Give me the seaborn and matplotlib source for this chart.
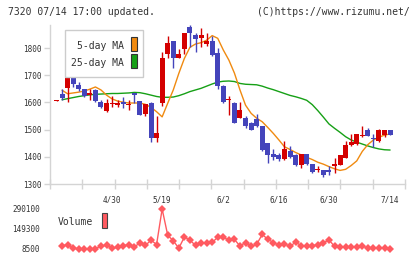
import numpy as np
import matplotlib
matplotlib.use("Agg")
import matplotlib.pyplot as plt
import seaborn as sns
from matplotlib.patches import Rectangle

# ---------------- data ----------------
opens = [1607, 1631, 1653, 1692, 1664, 1648, 1626, 1645, 1600, 1567,
         1594, 1590, 1601, 1591, 1634, 1604, 1557, 1598, 1470, 1597,
         1778, 1826, 1764, 1797, 1877, 1848, 1837, 1815, 1826, 1782,
         1660, 1609, 1598, 1543, 1543, 1525, 1539, 1513, 1451, 1410,
         1407, 1392, 1421, 1407, 1370, 1410, 1374, 1352, 1351, 1351,
         1367, 1371, 1397, 1444, 1447, 1478, 1499, 1469, 1458, 1481, 1499]
highs = [1610, 1648, 1697, 1697, 1675, 1650, 1648, 1648, 1608, 1614,
         1622, 1609, 1619, 1609, 1636, 1606, 1596, 1600, 1552, 1785,
         1845, 1827, 1797, 1856, 1884, 1855, 1873, 1855, 1844, 1800,
         1664, 1623, 1600, 1601, 1550, 1529, 1557, 1514, 1452, 1429,
         1414, 1458, 1440, 1410, 1411, 1411, 1375, 1366, 1352, 1366,
         1396, 1408, 1458, 1484, 1485, 1513, 1506, 1484, 1502, 1500, 1500]
lows = [1606, 1609, 1600, 1658, 1641, 1620, 1609, 1603, 1580, 1566,
        1582, 1583, 1579, 1572, 1598, 1553, 1550, 1455, 1456, 1588,
        1763, 1726, 1763, 1778, 1804, 1787, 1804, 1808, 1772, 1649,
        1597, 1555, 1523, 1543, 1506, 1499, 1510, 1421, 1378, 1389,
        1386, 1389, 1396, 1368, 1360, 1370, 1340, 1344, 1326, 1333,
        1341, 1369, 1396, 1440, 1445, 1472, 1475, 1436, 1456, 1473, 1480]
closes = [1609, 1617, 1692, 1668, 1649, 1624, 1636, 1605, 1585, 1597,
          1598, 1597, 1596, 1596, 1629, 1555, 1594, 1469, 1489, 1763,
          1818, 1763, 1778, 1855, 1856, 1833, 1848, 1826, 1775, 1660,
          1602, 1612, 1525, 1572, 1513, 1499, 1513, 1425, 1407, 1399,
          1393, 1429, 1399, 1370, 1410, 1375, 1345, 1356, 1333, 1345,
          1374, 1407, 1444, 1455, 1484, 1481, 1477, 1466, 1499, 1499, 1481]
ma5 = [np.nan, 1645, 1632, 1635, 1638, 1642, 1649, 1657, 1646, 1627,
       1613, 1605, 1601, 1598, 1598, 1598, 1593, 1582, 1566, 1547,
       1597, 1646, 1707, 1762, 1803, 1815, 1820, 1829, 1846, 1836,
       1793, 1756, 1708, 1646, 1590, 1560, 1542, 1529, 1508, 1486,
       1462, 1437, 1427, 1416, 1407, 1398, 1390, 1380, 1373, 1364,
       1356, 1350, 1354, 1368, 1385, 1420, 1445, 1462, 1472, 1480, 1484]
ma25 = [np.nan, 1610, 1614, 1618, 1622, 1625, 1628, 1630, 1631, 1632,
        1633, 1633, 1634, 1635, 1637, 1636, 1632, 1627, 1622, 1619,
        1619, 1620, 1625, 1632, 1640, 1646, 1652, 1660, 1668, 1675,
        1678, 1679, 1677, 1670, 1667, 1666, 1665, 1660, 1653, 1647,
        1640, 1633, 1626, 1621, 1615, 1608, 1592, 1570, 1546, 1521,
        1505, 1490, 1474, 1462, 1454, 1447, 1440, 1434, 1429, 1426, 1425]
volume = [np.nan, 29600, 40000, 14500, 10000, 10000, 10000, 10000, 29600, 35000,
          14500, 20000, 31000, 40000, 26000, 48500, 34000, 71000, 40000, 290100,
          106000, 66000, 14500, 93000, 71000, 34000, 50000, 50000, 55000, 91000,
          91000, 71000, 76000, 29600, 54000, 27000, 41000, 111000, 77000, 54000,
          35000, 44000, 28000, 56000, 33000, 29600, 32000, 37000, 51000, 73000,
          27000, 22000, 20000, 22000, 26000, 28000, 17000, 14500, 15000, 14500, 12000]
date_labels = ["4/30", "5/19", "6/2", "6/16", "6/30", "7/14"]
date_index = [10, 19, 30, 40, 49, 60]
price_ticks = [1300, 1400, 1500, 1600, 1700, 1800]
vol_ticks = [8500, 149300, 290100]
vol_tick_labels = ["8500", "149300", "290100"]

# ---------------- style ----------------
sns.set_theme(style="white")
plt.rcParams['font.family'] = ['DejaVu Sans Mono']

RED = '#d40000'
BLUE = '#4444bb'
ORANGE = '#f08a10'
GREEN = '#16a016'
VOLC = '#ff5a60'
GRAY = '#d4d4d4'
TXT = '#333333'

W, H = 420, 259
fig = plt.figure(figsize=(W / 100, H / 100), dpi=100)
fig.patch.set_facecolor('white')


def rect(l, t, r, b):
    return [l / W, 1 - b / H, (r - l) / W, (b - t) / H]


ax = fig.add_axes(rect(50, 25, 405, 184))
axv = fig.add_axes(rect(50, 203, 405, 255))

n = len(closes)
idx = np.arange(n)
step = 5.56
x0 = -(56.5 - 50) / step
x1 = (405 - 56.5) / step

# ---- moving averages (beneath candles) ----
sns.lineplot(x=idx, y=ma25, ax=ax, color=GREEN, lw=1.0, zorder=1)
sns.lineplot(x=idx, y=ma5, ax=ax, color=ORANGE, lw=1.0, zorder=1)

# ---- candles ----
o = np.array(opens, float); c = np.array(closes, float)
hi = np.array(highs, float); lo = np.array(lows, float)
cols = [RED if cc >= oo else BLUE for oo, cc in zip(o, c)]
ax.vlines(idx, lo, hi, colors=cols, lw=1.0, zorder=2)
bot = np.minimum(o, c)
hgt = np.maximum(np.abs(c - o), 3.0)
ax.bar(idx, hgt, bottom=bot, width=0.9, color=cols, linewidth=0, zorder=3)

ax.set_xlim(x0, x1)
ax.set_ylim(1300, 1885)
for s in ['top', 'right']:
    ax.spines[s].set_visible(False)
for s in ['left', 'bottom']:
    ax.spines[s].set_color(GRAY)
    ax.spines[s].set_linewidth(1.0)
ax.set_yticks(price_ticks)
ax.set_yticklabels([str(t) for t in price_ticks])
ax.tick_params(axis='y', length=4.3, width=1, color=GRAY, pad=2,
               labelsize=5.5, labelcolor=TXT, left=True)
ax.set_xticks(np.linspace(x0, x1, 12))
ax.set_xticklabels([])
ax.tick_params(axis='x', which='major', direction='inout', length=7.5,
               width=1, color=GRAY, bottom=True)
ax.set_xticks(date_index, minor=True)
ax.set_xticklabels(date_labels, minor=True)
ax.tick_params(axis='x', which='minor', length=0, pad=8, labelsize=5.5,
               labelcolor=TXT)
ax.grid(False)
ax.set_xlabel(''); ax.set_ylabel('')

# ---- volume ----
sns.lineplot(x=idx, y=volume, ax=axv, color=VOLC, lw=1.0, marker='D',
             markersize=4, markeredgewidth=0, markerfacecolor=VOLC)
vp = 40 / (290100 - 8500)  # px per unit
axv.set_xlim(x0, x1)
axv.set_ylim(8500 - 6 / vp, 290100 + 6 / vp)
for s in axv.spines.values():
    s.set_visible(False)
axv.set_xticks([])
axv.set_yticks(vol_ticks)
axv.set_yticklabels(vol_tick_labels)
axv.tick_params(axis='y', length=0, pad=7, labelsize=5.5, labelcolor=TXT)
axv.grid(False)
axv.set_xlabel(''); axv.set_ylabel('')

# ---- texts ----
fig.text(8 / W, 1 - 12 / H, "7320 07/14 17:00 updated.", ha='left',
         va='center', fontsize=7, color=TXT)
fig.text(410 / W, 1 - 12 / H, "(C)https://www.rizumu.net/", ha='right',
         va='center', fontsize=7, color=TXT)


def frect(l, t, r, b, **kw):
    fig.patches.append(Rectangle((l / W, 1 - b / H), (r - l) / W, (b - t) / H,
                                 transform=fig.transFigure, figure=fig, **kw))


# legend for MAs
frect(65, 30, 143, 77, facecolor='white', edgecolor='#cccccc', lw=1, zorder=5)
frect(131, 37, 137, 51, facecolor=ORANGE, edgecolor='#333333', lw=0.8, zorder=6)
frect(131, 54, 137, 68, facecolor=GREEN, edgecolor='#333333', lw=0.8, zorder=6)
fig.text(124 / W, 1 - 46 / H, "5-day MA", ha='right', va='center',
         fontsize=7, color=TXT, zorder=7)
fig.text(124 / W, 1 - 63 / H, "25-day MA", ha='right', va='center',
         fontsize=7, color=TXT, zorder=7)

# legend for volume
fig.text(58 / W, 1 - 222 / H, "Volume", ha='left', va='center',
         fontsize=7, color=TXT)
frect(102, 213, 107, 228, facecolor=VOLC, edgecolor='#444444', lw=0.8, zorder=6)

fig.savefig('out.png', dpi=100, facecolor='white')
